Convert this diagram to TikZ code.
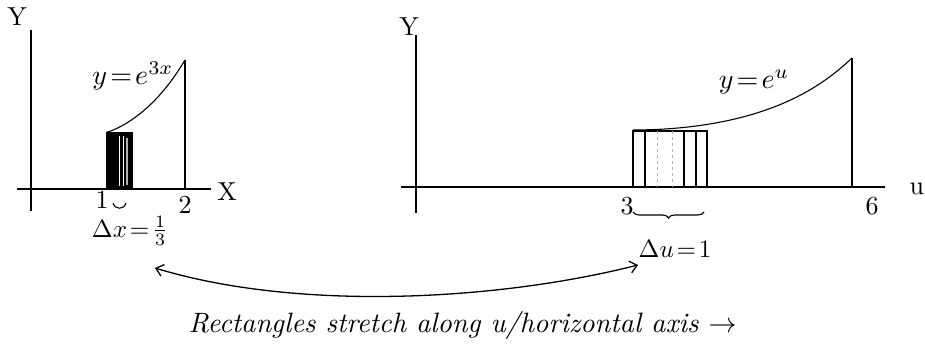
\documentclass[tikz,border=0pt]{standalone}
\usepackage{amsmath}
\usetikzlibrary{arrows.meta,decorations.pathreplacing}
\tikzset{
  ax/.style={line width=1.3pt},
  thin line/.style={line width=1.1pt},
  lbl/.style={font=\normalsize, inner sep=0pt, scale=2.6},
  eqlbl/.style={font=\normalsize, inner sep=0pt, scale=2.8},
  dlbl/.style={font=\normalsize, inner sep=0pt, scale=2.5},
  captext/.style={font=\normalsize\itshape, inner sep=0pt, scale=2.8},
  tipped/.style={line width=1.3pt, {Straight Barb[length=7pt,width=12pt]}-{Straight Barb[length=7pt,width=12pt]}}
}
\begin{document}
\begin{tikzpicture}[x=1pt,y=-1pt]
\useasboundingbox (0,0) rectangle (925,347);
% ---------- left graph ----------
\coordinate (lyT) at (31,30);
\coordinate (lyB) at (31,211);
\coordinate (lxL) at (17,189);
\coordinate (lxR) at (211,189);
\draw[ax] (lyT) -- (lyB);
\draw[ax] (lxL) -- (lxR);
\node[lbl] (lY) at (17,17) {Y};
\node[lbl] (lX) at (227,192) {X};
\node[lbl] (l1) at (102,200) {1};
\node[lbl] (l2) at (185,205) {2};
% rectangle (filled)
\fill (106,132) rectangle (133,189);
\draw[white, line width=1pt] (119.5,136) -- (119.5,186);
\draw[white, line width=1pt] (123,136) -- (123,186);
\draw[gray!60, line width=1.2pt] (127,138) -- (127,185);
% curve
\draw[thin line] plot[domain=0:1, samples=50] ({107+78*\x},{189-57*exp(0.817*\x^1.25)});
\coordinate (lTop) at (185,60);
\coordinate (lFoot) at (185,189);
\draw[thin line] (lTop) -- (lFoot);
\node[eqlbl] (leq) at (133,76) {$y\!=\!e^{3x}$};
% small brace
\coordinate (lbA) at (113,203);
\coordinate (lbB) at (126,203);
\draw[thin line] (lbA) .. controls (115,210) and (124,210) .. (lbB);
\node[dlbl] (ldx) at (130,231) {$\Delta x\!=\!\frac{1}{3}$};
% ---------- right graph ----------
\coordinate (ryT) at (416,35);
\coordinate (ryB) at (416,213);
\coordinate (rxL) at (401,187);
\coordinate (rxR) at (885,187);
\draw[ax] (ryT) -- (ryB);
\draw[ax] (rxL) -- (rxR);
\node[lbl] (rY) at (409,27) {Y};
\node[lbl, anchor=west] (ru) at (909,189) {u};
\node[lbl] (r3) at (627,206) {3};
\node[lbl] (r6) at (872,206) {6};
% rectangles
\draw[thin line] (633,131) rectangle (707,187);
\draw[line width=2.5pt] (633,131) -- (680,131);
\foreach \xx in {645,684,696} {\draw[thin line] (\xx,131) -- (\xx,187);}
\foreach \xx in {657,672} {\draw[gray!60, line width=1pt, dashed] (\xx,131) -- (\xx,187);}
% curve
\draw[thin line] plot[domain=0:1, samples=60] ({633+219*\x},{187-57*exp(0.817*\x^2)});
\coordinate (rTop) at (852,58);
\coordinate (rFoot) at (852,187);
\draw[thin line] (rTop) -- (rFoot);
\node[eqlbl] (req) at (754,82) {$y\!=\!e^{u}$};
% brace
\coordinate (rbA) at (633,212);
\coordinate (rbB) at (704,212);
\draw[thin line, decorate, decoration={brace, mirror, amplitude=6pt}] (rbA) -- (rbB);
\node[dlbl] (rdu) at (675,249) {$\Delta u\!=\!1$};
% ---------- double arrow ----------
\coordinate (arL) at (155,268);
\coordinate (arR) at (638,265);
\draw[tipped] (arL) .. controls (300,312) and (500,300) .. (arR);
\node[captext, anchor=west] (capt) at (188,325) {Rectangles stretch along u/horizontal axis $\rightarrow$};
\end{tikzpicture}
\end{document}
